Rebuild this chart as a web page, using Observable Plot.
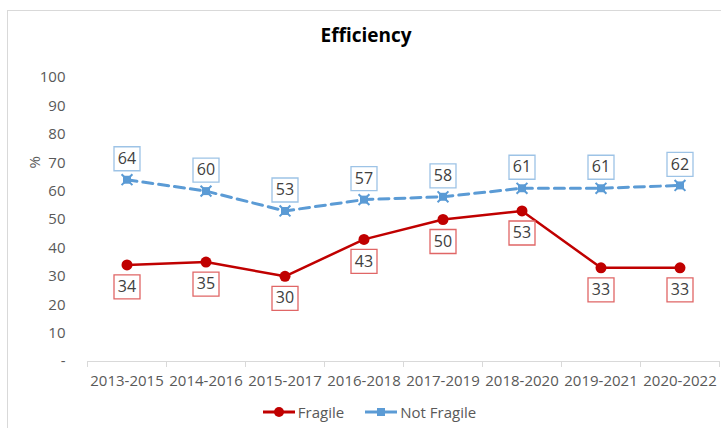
<!DOCTYPE html>
<html>
<head>
<meta charset="utf-8">
<script src="https://cdn.jsdelivr.net/npm/d3@7"></script>
<script src="https://cdn.jsdelivr.net/npm/@observablehq/plot@0.6"></script>
<style>
  html, body { margin: 0; padding: 0; background: #fff; }
  #wrap { position: relative; width: 721px; height: 428px; overflow: hidden; font-family: "Open Sans", sans-serif; }
  #frame { position: absolute; left: 7px; top: 10px; width: 730px; height: 430px; border: 1px solid #d9d9d9; box-sizing: border-box; }
  #title { position: absolute; left: 0; width: 732px; top: 22px; text-align: center; font-weight: bold; font-size: 19px; color: #000; }
  #chart { position: absolute; left: 0; top: 0; }
  #legend { position: absolute; top: 402px; left: 0; width: 738px; text-align: center; font-size: 15px; color: #595959; }
  #legend span.item { display: inline-flex; align-items: center; margin: 0 10px; }
  #legend svg { margin-right: 2px; }
</style>
</head>
<body>
<div id="wrap">
  <div id="frame"></div>
  <div id="title">Efficiency</div>
  <div id="chart"></div>
  <div id="legend"></div>
</div>
<script>
const categories = ["2013-2015","2014-2016","2015-2017","2016-2018","2017-2019","2018-2020","2019-2021","2020-2022"];
const fragile = [34, 35, 30, 43, 50, 53, 33, 33];
const notFragile = [64, 60, 53, 57, 58, 61, 61, 62];
const yTicks = [0, 10, 20, 30, 40, 50, 60, 70, 80, 90, 100];
const seriesNames = ["Fragile", "Not Fragile"];
const colors = { fragile: "#c00000", notFragile: "#5b9bd5" };

const fData = categories.map((c, i) => ({ i, cat: c, v: fragile[i] }));
const nData = categories.map((c, i) => ({ i, cat: c, v: notFragile[i] }));

const boxSymbol = { draw(ctx) { ctx.rect(-13, -12, 26, 24); } };

const plot = Plot.plot({
  width: 721,
  height: 428,
  marginLeft: 87,
  marginRight: 2,
  marginTop: 77,
  marginBottom: 67,
  style: { background: "transparent", fontFamily: "Open Sans, sans-serif", fontSize: "15px", color: "#595959" },
  x: { type: "linear", domain: [-0.5, categories.length - 0.5] },
  y: { domain: [0, 100] },
  marks: [
    Plot.axisY({ ticks: yTicks, tickSize: 0, tickPadding: 22, tickFormat: d => d === 0 ? "-" : d, label: null, fontSize: 15, fill: "#595959" }),
    Plot.axisX({ ticks: d3.range(categories.length), tickSize: 0, tickPadding: 14, tickFormat: i => categories[i], label: null, fontSize: 15, fill: "#595959" }),
    Plot.text(["%"], { frameAnchor: "left", dx: -52, dy: -51, rotate: -90, fill: "#595959", fontSize: 15 }),
    Plot.ruleY([0], { stroke: "#d9d9d9", strokeWidth: 1 }),
    Plot.ruleX(d3.range(categories.length + 1).map(i => i - 0.5), { y1: 0, y2: -2.1, stroke: "#d9d9d9" }),
    Plot.line(nData, { x: "i", y: "v", stroke: colors.notFragile, strokeWidth: 3, strokeDasharray: "10,6" }),
    Plot.dot(nData, { x: "i", y: "v", symbol: "square", r: 4.5, fill: colors.notFragile }),
    Plot.dot(nData, { x: "i", y: "v", symbol: "times", r: 5, stroke: colors.notFragile, strokeWidth: 2 }),
    Plot.line(fData, { x: "i", y: "v", stroke: colors.fragile, strokeWidth: 2.5 }),
    Plot.dot(fData, { x: "i", y: "v", r: 5.5, fill: colors.fragile }),
    Plot.dot(nData, { x: "i", y: "v", symbol: boxSymbol, dy: -21, fill: "white", stroke: "#9dc3e6", strokeWidth: 1.3 }),
    Plot.text(nData, { x: "i", y: "v", text: "v", dy: -21, fill: "#404040", fontSize: 16 }),
    Plot.dot(fData, { x: "i", y: "v", symbol: boxSymbol, dy: 22, fill: "white", stroke: "#e06666", strokeWidth: 1.3 }),
    Plot.text(fData, { x: "i", y: "v", text: "v", dy: 22, fill: "#404040", fontSize: 16 })
  ]
});
document.getElementById("chart").appendChild(plot);

const legend = document.getElementById("legend");
legend.innerHTML =
  `<span class="item"><svg width="34" height="14"><line x1="1" x2="33" y1="7" y2="7" stroke="${colors.fragile}" stroke-width="3"/><circle cx="17" cy="7" r="5" fill="${colors.fragile}"/></svg>${seriesNames[0]}</span>` +
  `<span class="item"><svg width="34" height="14"><line x1="1" x2="33" y1="7" y2="7" stroke="${colors.notFragile}" stroke-width="3"/><rect x="13" y="3" width="8" height="8" fill="${colors.notFragile}"/></svg>${seriesNames[1]}</span>`;
</script>
</body>
</html>
